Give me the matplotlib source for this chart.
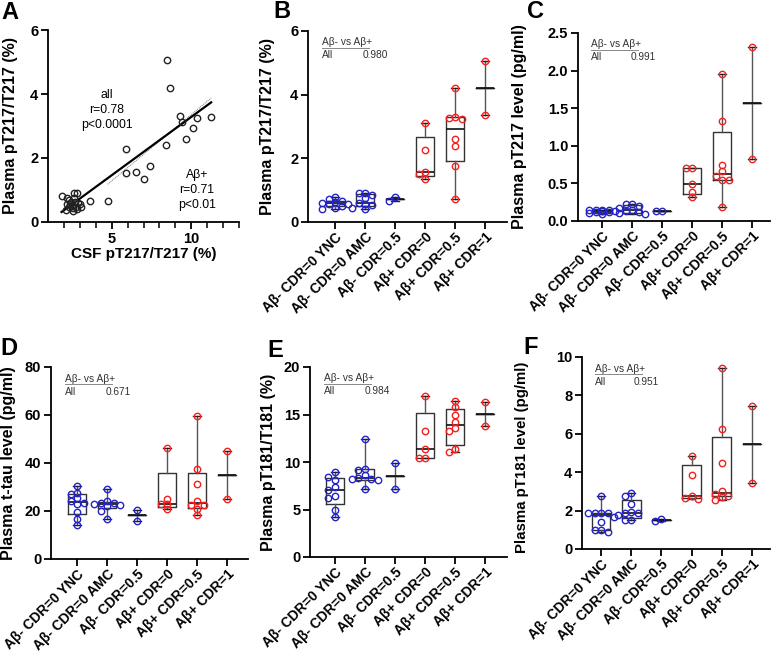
import numpy as np
import matplotlib
matplotlib.use('Agg')
import matplotlib.pyplot as plt
from matplotlib.ticker import FixedLocator

plt.rcParams['font.family'] = ['Liberation Sans', 'DejaVu Sans']
plt.rcParams['axes.linewidth'] = 1.3

# ---------------- data ----------------
categories = ['Aβ- CDR=0 YNC', 'Aβ- CDR=0 AMC', 'Aβ- CDR=0.5',
              'Aβ+ CDR=0', 'Aβ+ CDR=0.5', 'Aβ+ CDR=1']

# Panel A : CSF vs plasma pT217/T217 (%)
csf_neg = [3.65, 1.85, 2.17, 2.65, 2.85, 2.44, 2.33, 2.54, 2.79, 3.06, 2.70,
           2.65, 2.40, 2.85, 2.10, 2.20, 2.50, 2.90, 2.60, 2.30, 3.00]
plasma_neg = [0.65, 0.81, 0.74, 0.90, 0.92, 0.64, 0.48, 0.43, 0.48, 0.48, 0.64,
              0.74, 0.56, 0.40, 0.38, 0.55, 0.50, 0.60, 0.35, 0.70, 0.55]
csf_pos = [8.48, 8.65, 9.31, 9.42, 10.35, 11.25, 10.10, 9.67, 8.42, 5.92,
           7.42, 5.90, 6.54, 7.02, 4.75]
plasma_pos = [5.05, 4.20, 3.32, 3.11, 3.25, 3.28, 2.95, 2.58, 2.40, 2.28,
              1.75, 1.52, 1.56, 1.33, 0.66]

# Panel B : plasma pT217/T217 (%)
b_vals = [
    [0.42, 0.45, 0.50, 0.55, 0.58, 0.60, 0.62, 0.66, 0.72, 0.80],
    [0.42, 0.45, 0.53, 0.58, 0.60, 0.74, 0.85, 0.92, 0.92],
    [0.65, 0.80],
    [1.34, 1.52, 1.57, 2.25, 3.11],
    [0.71, 1.76, 2.38, 2.62, 3.25, 3.27, 3.30, 4.20],
    [3.37, 5.05],
]
# Panel C : plasma pT217 level (pg/ml)
c_vals = [
    [0.09, 0.11, 0.12, 0.12, 0.13, 0.13, 0.14, 0.14, 0.15, 0.15],
    [0.09, 0.10, 0.12, 0.13, 0.15, 0.17, 0.20, 0.22, 0.23],
    [0.13, 0.13],
    [0.315, 0.39, 0.49, 0.71, 0.71],
    [0.19, 0.54, 0.54, 0.60, 0.66, 0.75, 1.33, 1.95],
    [0.83, 2.32],
]
# Panel D : plasma t-tau level (pg/ml)
d_vals = [
    [14.2, 16.5, 19.7, 23.0, 23.5, 24.0, 25.3, 27.0, 27.4, 30.5],
    [16.6, 20.2, 22.0, 22.5, 23.0, 23.2, 23.5, 24.0, 29.0],
    [16.0, 20.6],
    [20.7, 22.8, 22.8, 24.9, 46.4],
    [18.2, 20.8, 22.6, 22.6, 24.3, 31.3, 37.6, 59.5],
    [24.9, 45.1],
]
# Panel E : plasma pT181/T181 (%)
e_vals = [
    [4.2, 4.95, 6.2, 6.45, 7.1, 7.4, 8.1, 8.46, 8.9],
    [7.2, 8.1, 8.2, 8.25, 8.3, 8.6, 9.2, 9.3, 12.4],
    [7.2, 9.9],
    [10.4, 10.4, 11.4, 13.3, 17.0],
    [11.1, 11.35, 13.3, 13.55, 14.25, 14.9, 15.75, 16.45],
    [13.8, 16.35],
]
# Panel F : plasma pT181 level (pg/ml)
f_vals = [
    [0.88, 0.98, 1.00, 1.40, 1.68, 1.85, 1.86, 1.88, 1.90, 2.75],
    [1.50, 1.52, 1.75, 1.85, 1.90, 1.92, 2.35, 2.75, 2.92],
    [1.47, 1.56],
    [2.62, 2.65, 2.78, 3.87, 4.86],
    [2.55, 2.72, 2.78, 2.85, 3.02, 4.50, 6.25, 9.44],
    [3.45, 7.46],
]

p_values = {'B': '0.980', 'C': '0.991', 'D': '0.671', 'E': '0.984', 'F': '0.951'}
y_labels = {'B': 'Plasma pT217/T217 (%)', 'C': 'Plasma pT217 level (pg/ml)',
            'D': 'Plasma t-tau level (pg/ml)', 'E': 'Plasma pT181/T181 (%)',
            'F': 'Plasma pT181 level (pg/ml)'}
y_ticks = {'B': [0, 2, 4, 6], 'C': [0.0, 0.5, 1.0, 1.5, 2.0, 2.5],
           'D': [0, 20, 40, 60, 80], 'E': [0, 5, 10, 15, 20],
           'F': [0, 2, 4, 6, 8, 10]}
y_ticklabels = {'B': ['0', '2', '4', '6'],
                'C': ['0.0', '0.5', '1.0', '1.5', '2.0', '2.5'],
                'D': ['0', '20', '40', '60', '80'],
                'E': ['0', '5', '10', '15', '20'],
                'F': ['0', '2', '4', '6', '8', '10']}

BLUE = '#2323c8'
RED = '#f42020'
group_colors = [BLUE, BLUE, BLUE, RED, RED, RED]

# ---------------- figure ----------------
W, H = 775, 660
fig = plt.figure(figsize=(W / 100, H / 100), dpi=100)


def add_ax(l, r, t, b):
    return fig.add_axes([l / W, (H - b) / H, (r - l) / W, (b - t) / H])


def style(ax):
    for s in ['top', 'right']:
        ax.spines[s].set_visible(False)
    ax.tick_params(axis='both', which='major', length=5, width=1.3,
                   labelsize=10.5, pad=2)
    for lab in ax.get_xticklabels() + ax.get_yticklabels():
        lab.set_fontweight('bold')


def swarm_offsets(vals, px_per_unit, unit_px, dpx=6.5, diam=5.0):
    vals = np.asarray(vals, float)
    order = np.argsort(-vals, kind='stable')
    placed = []
    offs = np.zeros(len(vals))
    for i in order:
        y = vals[i] * px_per_unit
        best, best_d = 0.0, -1.0
        for k in [0, -1, 1, -2, 2]:
            xo = k * dpx
            d = min([np.hypot(xo - px, y - py) for px, py in placed],
                    default=1e9)
            if d >= diam:
                best = xo
                break
            if d > best_d + 0.5:
                best, best_d = xo, d
        placed.append((best, y))
        offs[i] = best / unit_px
    return offs


def box_panel(ax, data, key, ylim, xlim, axh_px, axw_px, label_size=11.5):
    ax.set_xlim(*xlim)
    ax.set_ylim(*ylim)
    px_per_unit = axh_px / (ylim[1] - ylim[0])
    unit_px = axw_px / (xlim[1] - xlim[0])
    stats = []
    for vals in data:
        v = np.asarray(vals, float)
        med = np.median(v)
        if len(v) >= 3:
            q1, q3 = np.percentile(v, [25, 75], method='weibull')
        else:
            med = v.mean()
            q1 = q3 = med
        stats.append(dict(med=med, q1=q1, q3=q3, whislo=v.min(),
                          whishi=v.max(), fliers=[]))
    ax.bxp(stats, positions=range(len(data)), widths=0.62, capwidths=0.26,
           showfliers=False, patch_artist=False,
           boxprops=dict(color='#333333', linewidth=1.0),
           whiskerprops=dict(color='#555555', linewidth=1.0),
           capprops=dict(color='#222222', linewidth=1.0),
           medianprops=dict(color='#111111', linewidth=1.2))
    for i, vals in enumerate(data):
        offs = swarm_offsets(vals, px_per_unit, unit_px)
        ax.plot(i + offs, vals, 'o', ms=4.6, mfc='none', mec=group_colors[i],
                mew=1.0, zorder=5, clip_on=False)
    ax.set_xticks(range(len(categories)))
    ax.set_xticklabels(categories, rotation=45, ha='right',
                       rotation_mode='anchor', fontsize=10, fontweight='bold')
    ax.set_yticks(y_ticks[key])
    ax.set_yticklabels(y_ticklabels[key])
    ax.set_ylabel(y_labels[key], fontsize=label_size, fontweight='bold')
    style(ax)
    ax.tick_params(axis='x', labelsize=10, pad=1)
    # small statistics table
    wfrac = 47.0 / axw_px
    ax.text(0.07, 0.94, 'Aβ- vs Aβ+', transform=ax.transAxes, fontsize=7.3,
            color='#333333', ha='left', va='center')
    ax.plot([0.07, 0.07 + wfrac], [0.912, 0.912], transform=ax.transAxes,
            color='#888888', lw=0.7, clip_on=False)
    ax.text(0.07, 0.872, 'All', transform=ax.transAxes, fontsize=7.3,
            color='#333333', ha='left', va='center')
    ax.text(0.275, 0.872, p_values[key], transform=ax.transAxes, fontsize=7.3,
            color='#333333', ha='left', va='center')


# ---- Panel A ----
axA = add_ax(48, 239, 30, 222)
axA.set_xlim(1, 13)
axA.set_ylim(0, 6)
x_all = np.array(csf_neg + csf_pos)
y_all = np.array(plasma_neg + plasma_pos)
axA.plot(x_all, y_all, 'o', ms=4.6, mfc='none', mec='#222222', mew=1.0,
         zorder=4, clip_on=False)
k_all, b_all = np.polyfit(x_all, y_all, 1)
xs = np.array([x_all.min(), x_all.max()])
axA.plot(xs, k_all * xs + b_all, color='black', lw=1.6, zorder=3)
k_pos, b_pos = np.polyfit(csf_pos, plasma_pos, 1)
xp = np.array([min(csf_pos), max(csf_pos)])
axA.plot(xp, k_pos * xp + b_pos, color='#777777', lw=0.7, ls=(0, (1, 1)),
         zorder=2)
axA.set_yticks([0, 2, 4, 6])
axA.set_xticks([5, 10])
axA.xaxis.set_minor_locator(FixedLocator([2, 3, 4, 6, 7, 8, 9, 11, 12, 13]))
axA.tick_params(axis='x', which='minor', length=4, width=1.1)
axA.set_xlabel('CSF pT217/T217 (%)', fontsize=11, fontweight='bold',
               labelpad=1)
axA.set_ylabel('Plasma pT217/T217 (%)', fontsize=11.5, fontweight='bold')
style(axA)
axA.yaxis.set_label_coords(-0.155, 0.5)
axA.text(0.309, 0.583, 'all\nr=0.78\np<0.0001', transform=axA.transAxes,
         ha='center', va='center', fontsize=8.8, linespacing=1.3)
axA.text(0.78, 0.167, 'Aβ+\nr=0.71\np<0.01', transform=axA.transAxes,
         ha='center', va='center', fontsize=8.8, linespacing=1.3)

# ---- Panel B ----
axB = add_ax(308, 507, 31, 222)
box_panel(axB, b_vals, 'B', (0, 6), (-0.9, 5.73), 191, 199)
axB.yaxis.set_label_coords(-0.165, 0.5)

# ---- Panel C ----
axC = add_ax(578, 770, 33, 221)
box_panel(axC, c_vals, 'C', (0, 2.5), (-0.8, 5.6), 188, 192)
axC.yaxis.set_label_coords(-0.265, 0.5)

# ---- Panel D ----
axD = add_ax(51, 248, 367, 559)
box_panel(axD, d_vals, 'D', (0, 80), (-0.87, 5.7), 192, 197)
axD.yaxis.set_label_coords(-0.18, 0.5)

# ---- Panel E ----
axE = add_ax(310, 507, 367, 557)
box_panel(axE, e_vals, 'E', (0, 20), (-0.83, 5.73), 190, 197)
axE.yaxis.set_label_coords(-0.175, 0.5)

# ---- Panel F ----
axF = add_ax(582, 770, 357, 549)
box_panel(axF, f_vals, 'F', (0, 10), (-0.63, 5.6), 192, 188, label_size=10.8)
axF.yaxis.set_label_coords(-0.28, 0.48)

# panel letters
for letter, (px, py) in {'A': (1, 19), 'B': (273, 18), 'C': (527, 18),
                         'D': (0, 355), 'E': (267, 357),
                         'F': (523, 354)}.items():
    fig.text(px / W, (H - py) / H, letter, fontsize=17, fontweight='bold',
             ha='left', va='baseline')

fig.savefig('out.png', dpi=100)
